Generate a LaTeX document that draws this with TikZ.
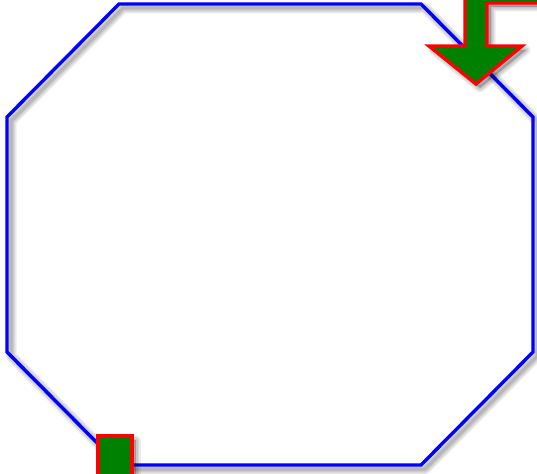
\documentclass[tikz,border=0pt]{standalone}
\definecolor{darkgreen}{RGB}{0,128,0}
\newcommand\octpath{(119,4) -- (421,4) -- (533,117) -- (533,352) -- (421,465) -- (119,465) -- (7,352) -- (7,117) -- cycle}
\newcommand\arrpath{(465,-20) -- (465,46) -- (429,46) -- (476,84) -- (522,46) -- (487,46) -- (487,3) -- (560,3) -- (560,-20) -- cycle}
\newcommand\rectpath{(98,436) rectangle (132,490)}
\tikzset{
  outline/.style={draw=blue, line width=3.4pt, line join=miter},
  marker/.style={draw=red, fill=darkgreen, line width=3.4pt, line join=miter},
  softshade/.style={draw=black, opacity=0.08, line join=round}
}
\begin{document}
\begin{tikzpicture}[x=1pt,y=-1pt]
\useasboundingbox (0,0) rectangle (537,473);
\clip (0,0) rectangle (537,473);
\fill[white] (0,0) rectangle (537,473);
% octagon shadow
\foreach \w in {11,8,5,3} {
  \draw[softshade, line width=\w pt, shift={(4,4)}] \octpath;
}
\draw[outline] \octpath;
% arrow shadow
\foreach \w in {9,6,3} {
  \filldraw[softshade, fill=black, line width=\w pt, shift={(4,4)}] \arrpath;
}
\path[marker] \arrpath;
% rectangle shadow
\foreach \w in {9,6,3} {
  \filldraw[softshade, fill=black, line width=\w pt, shift={(4,4)}] \rectpath;
}
\path[marker] \rectpath;
\end{tikzpicture}
\end{document}
